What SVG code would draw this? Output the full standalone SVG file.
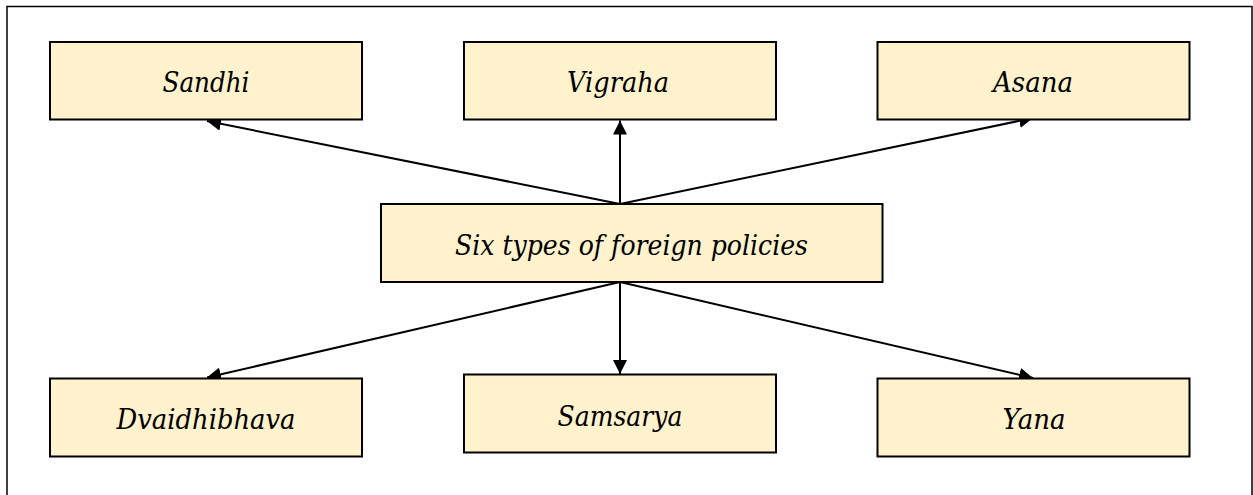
<svg xmlns="http://www.w3.org/2000/svg" width="1253" height="495" viewBox="0 0 1253 495">
<defs>
<style>
.node rect{fill:#fff2cc;stroke:#000;stroke-width:2}
.node text{font-family:'DejaVu Serif',serif;font-style:italic;font-size:28px;fill:#000;text-anchor:middle}
.conn line{stroke:#000;stroke-width:2}
</style>
<marker id="ah" viewBox="0 0 14 14" refX="14" refY="7" markerWidth="14" markerHeight="14" markerUnits="userSpaceOnUse" orient="auto">
<path d="M0,0 L14,7 L0,14 Z" fill="#000"/>
</marker>
</defs>
<rect x="7" y="6.5" width="1245" height="500" fill="#fff" stroke="#000" stroke-width="1.5"/>
<g id="connectors" class="conn">
<line x1="620" y1="204" x2="207" y2="121" marker-end="url(#ah)"/>
<line x1="620" y1="204" x2="620" y2="120.5" marker-end="url(#ah)"/>
<line x1="620" y1="204" x2="1033" y2="118" marker-end="url(#ah)"/>
<line x1="620" y1="282" x2="207" y2="377.5" marker-end="url(#ah)"/>
<line x1="620" y1="282" x2="620" y2="374" marker-end="url(#ah)"/>
<line x1="620" y1="282" x2="1033" y2="378" marker-end="url(#ah)"/>
</g>
<g id="sandhi" class="node"><rect x="50" y="42" width="312" height="77.5"/><text x="206" y="92" textLength="87" lengthAdjust="spacingAndGlyphs">Sandhi</text></g>
<g id="vigraha" class="node"><rect x="464" y="42" width="312" height="77.5"/><text x="618" y="92" textLength="102" lengthAdjust="spacingAndGlyphs">Vigraha</text></g>
<g id="asana" class="node"><rect x="877.5" y="42" width="312" height="77.5"/><text x="1033" y="92" textLength="80" lengthAdjust="spacingAndGlyphs">Asana</text></g>
<g id="center" class="node"><rect x="381" y="204" width="501.5" height="78"/><text x="631.5" y="255" textLength="353" lengthAdjust="spacingAndGlyphs">Six types of foreign policies</text></g>
<g id="dvaidhibhava" class="node"><rect x="50" y="378.5" width="312" height="78"/><text x="206" y="428.5" textLength="179" lengthAdjust="spacingAndGlyphs">Dvaidhibhava</text></g>
<g id="samsarya" class="node"><rect x="464" y="374.5" width="312" height="78"/><text x="620" y="426" textLength="125" lengthAdjust="spacingAndGlyphs">Samsarya</text></g>
<g id="yana" class="node"><rect x="877.5" y="378.5" width="312" height="78"/><text x="1034" y="428.5" textLength="63" lengthAdjust="spacingAndGlyphs">Yana</text></g>
</svg>
